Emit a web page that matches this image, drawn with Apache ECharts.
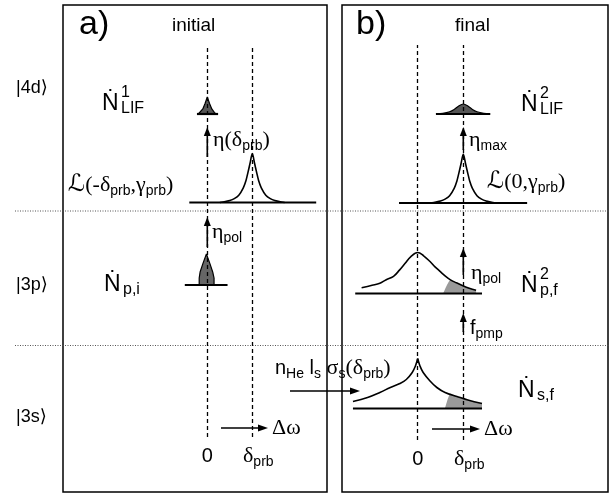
<!DOCTYPE html>
<html><head><meta charset="utf-8">
<script src="https://cdn.jsdelivr.net/npm/echarts@6/dist/echarts.min.js"></script>
<style>html,body{margin:0;padding:0;background:#fff}#c{width:610px;height:494px}</style>
</head><body><div id="c"></div>
<script>
// ---------- DATA (x in units of the probe detuning δprb, y = relative height) ----------
const freqTicks = [0, 1];
const freqTickLabels = ['0', 'δprb'];
const levelLabels = ['|4d⟩', '|3p⟩', '|3s⟩'];
const panelLabels = ['a)', 'b)'];
const panelTitles = ['initial', 'final'];

// panel a
const lifInitial = [[-0.2,0],[-0.16,0.08],[-0.1,0.3],[-0.05,0.62],[0,1],[0.05,0.62],[0.1,0.3],[0.16,0.08],[0.2,0]];
const lifInitialBase = [[-0.23,0],[0.24,0]];
const probeLorentz = [[0.28,0],[0.4,0.02],[0.5,0.04],[0.6,0.08],[0.7,0.15],[0.8,0.3],[0.86,0.45],[0.9,0.6],[0.95,0.8],[1,1],[1.05,0.8],[1.1,0.6],[1.14,0.45],[1.2,0.3],[1.3,0.15],[1.4,0.08],[1.5,0.04],[1.6,0.02],[1.72,0]];
const probeBaseA = [[-0.4,0],[2.42,0]];
const popInitial = [[-0.18,0],[-0.18,0.22],[-0.16,0.42],[-0.1,0.68],[-0.02,1],[0.06,0.68],[0.12,0.42],[0.15,0.22],[0.15,0]];
const popInitialBase = [[-0.5,0],[0.45,0]];

// panel b
const lifFinal = [[0.4,0],[0.55,0.06],[0.7,0.22],[0.8,0.45],[0.9,0.8],[1,1],[1.1,0.8],[1.2,0.45],[1.3,0.22],[1.45,0.06],[1.59,0]];
const lifFinalBase = [[0.4,0],[1.59,0]];
const probeBaseB = [[-0.41,0],[2.4,0]];
const popFinal = [[-1.23,0.14],[-1.0,0.2],[-0.83,0.25],[-0.7,0.33],[-0.53,0.42],[-0.4,0.57],[-0.28,0.73],[-0.15,0.9],[0,1],[0.13,0.92],[0.27,0.78],[0.38,0.65],[0.49,0.54],[0.6,0.43],[0.71,0.34],[0.85,0.26],[0.99,0.19],[1.13,0.13],[1.28,0.08]];
const popFinalShade = [[0.56,0],[0.72,0.33],[0.85,0.26],[0.99,0.19],[1.13,0.13],[1.28,0.08]];
const popFinalBase = [[-1.37,0],[1.41,0]];
const groundLeft = [[-1.42,0.14],[-1.1,0.22],[-0.83,0.32],[-0.6,0.42],[-0.39,0.5],[-0.25,0.58],[-0.12,0.72],[-0.05,0.85],[0,1]];
const groundRight = [[0,1],[0.05,0.85],[0.12,0.72],[0.27,0.55],[0.42,0.42],[0.6,0.32],[0.86,0.24],[1.1,0.17],[1.41,0.1]];
const groundShade = [[0.6,0],[0.72,0.3],[0.86,0.24],[1.1,0.17],[1.41,0.1]];
const groundBase = [[-1.42,0],[1.41,0]];

// ---------- LAYOUT ----------
const SANS = 'Liberation Sans, Arial, DejaVu Sans, sans-serif';
const SERIF = 'Liberation Serif, DejaVu Serif, serif';
const SCRIPT = 'DejaVu Serif, DejaVu Sans, serif';
const PA = {x0: 207.3, s: 45}, PB = {x0: 417.7, s: 45.6};
function panelGrid(p, top, height) {
  return {left: p.x0 - 3 * p.s, width: 6 * p.s, top: top, height: height, containLabel: false, outerBoundsMode: 'none', show: false};
}
const grids = [
  panelGrid(PA, 45, 392),
  panelGrid(PA, 97, 17),
  panelGrid(PA, 153.5, 49),
  panelGrid(PA, 254, 31),
  panelGrid(PB, 45, 395),
  panelGrid(PB, 104, 10),
  panelGrid(PB, 154, 49),
  panelGrid(PB, 252.5, 41),
  panelGrid(PB, 358.5, 50)
];
const rich = {
  t: {fontFamily: SANS, fontSize: 20, lineHeight: 26, fill: '#000'},
  g: {fontFamily: SERIF, fontSize: 22, lineHeight: 26, fill: '#000'},
  s: {fontFamily: SANS, fontSize: 14, lineHeight: 13, verticalAlign: 'bottom', fill: '#000'},
  l: {fontFamily: SCRIPT, fontSize: 24, lineHeight: 26, fill: '#000'}
};
const dashedIdx = [0, 4];
const xAxes = grids.map((g, i) => {
  const isDash = dashedIdx.indexOf(i) >= 0;
  return {
    type: 'value', gridIndex: i, min: -3, max: 3, interval: 1,
    show: isDash,
    axisLine: {show: false}, axisTick: {show: false}, splitLine: {show: false},
    axisLabel: {
      show: isDash, margin: 6,
      formatter: v => {
        const k = freqTicks.indexOf(v);
        if (k < 0) return '';
        return k === 0 ? '{t|' + freqTickLabels[0] + '}' : '{g|δ}{s|' + freqTickLabels[1].slice(1) + '}';
      },
      rich: {
        t: {fontFamily: SANS, fontSize: 20, lineHeight: 26, color: '#000'},
        g: {fontFamily: SERIF, fontSize: 22, lineHeight: 26, color: '#000', padding: [0, 0, 0, 12]},
        s: {fontFamily: SANS, fontSize: 14, lineHeight: 13, verticalAlign: 'bottom', color: '#000'}
      }
    }
  };
});
const yAxes = grids.map((g, i) => ({type: 'value', gridIndex: i, min: 0, max: 1, show: false}));

function ln(gi, data, o) {
  return Object.assign({type: 'line', xAxisIndex: gi, yAxisIndex: gi, data: data, symbol: 'none', clip: false, silent: true, animation: false,
    lineStyle: {color: '#000', width: 1.6}}, o || {});
}
const baseStyle = {lineStyle: {color: '#000', width: 2.2}};
const dashSeries = gi => ({
  type: 'line', xAxisIndex: gi, yAxisIndex: gi, data: [[0, 0]], symbol: 'none', silent: true, animation: false,
  lineStyle: {width: 0},
  markLine: {symbol: ['none', 'none'], silent: true, animation: false, label: {show: false},
    lineStyle: {color: '#000', width: 1.3, type: [4, 3]},
    data: freqTicks.map(v => ({xAxis: v}))}
});
const series = [
  dashSeries(0), dashSeries(4),
  ln(1, lifInitialBase, baseStyle),
  ln(1, lifInitial, {areaStyle: {color: '#555', opacity: 1}, lineStyle: {color: '#000', width: 1.2}}),
  ln(2, probeBaseA, baseStyle),
  ln(2, probeLorentz, {smooth: 0.3}),
  ln(3, popInitialBase, baseStyle),
  ln(3, popInitial, {areaStyle: {color: '#666', opacity: 1}, lineStyle: {color: '#000', width: 1.2}}),
  ln(5, lifFinalBase, baseStyle),
  ln(5, lifFinal, {smooth: 0.3, areaStyle: {color: '#555', opacity: 1}, lineStyle: {color: '#000', width: 1.2}}),
  ln(6, probeBaseB, baseStyle),
  ln(6, probeLorentz, {smooth: 0.3}),
  ln(7, popFinalBase, baseStyle),
  ln(7, popFinalShade, {smooth: 0.2, areaStyle: {color: '#9a9a9a', opacity: 1}, lineStyle: {width: 0}}),
  ln(7, popFinal, {smooth: 0.4}),
  ln(8, groundBase, baseStyle),
  ln(8, groundShade, {smooth: 0.2, areaStyle: {color: '#9a9a9a', opacity: 1}, lineStyle: {width: 0}}),
  ln(8, groundLeft, {smooth: 0.4}),
  ln(8, groundRight, {smooth: 0.4})
];

const chart = echarts.init(document.getElementById('c'), null, {renderer: 'canvas'});
chart.setOption({animation: false, backgroundColor: '#fff', grid: grids, xAxis: xAxes, yAxis: yAxes, series: series});

// ---------- annotations ----------
const px = (axis, v) => chart.convertToPixel({xAxisIndex: axis}, v);
const G = [];
function txt(x, y, text, font) {
  G.push({type: 'text', x: x, y: y, z: 10, silent: true,
    style: {text: text, rich: rich, fill: '#000', font: font || ('20px ' + SANS), align: 'left', verticalAlign: 'middle'}});
}
function vArrow(x, yBot, yTip) {
  G.push({type: 'line', z: 10, silent: true, shape: {x1: x, y1: yBot, x2: x, y2: yTip + 6}, style: {stroke: '#000', lineWidth: 1.6}});
  G.push({type: 'polygon', z: 10, silent: true, shape: {points: [[x, yTip], [x - 3.5, yTip + 9], [x + 3.5, yTip + 9]]}, style: {fill: '#000'}});
}
function hArrow(x1, xTip, y) {
  G.push({type: 'line', z: 10, silent: true, shape: {x1: x1, y1: y, x2: xTip - 6, y2: y}, style: {stroke: '#000', lineWidth: 1.4}});
  G.push({type: 'polygon', z: 10, silent: true, shape: {points: [[xTip, y], [xTip - 10, y - 3.5], [xTip - 10, y + 3.5]]}, style: {fill: '#000'}});
}
function dotN(x, y, sup, sub) {
  txt(x, y, 'Ṅ', '23px ' + SANS);
  if (sup) txt(x + 19, y - 11, sup, '16px ' + SANS);
  if (sub) txt(x + 19, y + 5, sub, '16px ' + SANS);
}
// panel frames and level separators
G.push({type: 'rect', z: 1, silent: true, shape: {x: 63, y: 5, width: 264, height: 487}, style: {fill: 'none', stroke: '#000', lineWidth: 1.5}});
G.push({type: 'rect', z: 1, silent: true, shape: {x: 342, y: 5, width: 266, height: 487}, style: {fill: 'none', stroke: '#000', lineWidth: 1.5}});
[211, 345.5].forEach(y => G.push({type: 'line', z: 1, silent: true, shape: {x1: 15, y1: y, x2: 610, y2: y}, style: {stroke: '#555', lineWidth: 1, lineDash: [1, 1.5]}}));

// level labels
[88, 285, 417].forEach((y, i) => txt(16, y, levelLabels[i], '18px ' + SANS));
// panel headers
txt(79, 25, panelLabels[0], '34px ' + SANS);
txt(172, 26, panelTitles[0], '19px ' + SANS);
txt(356, 25, panelLabels[1], '34px ' + SANS);
txt(455, 26, panelTitles[1], '19px ' + SANS);

// panel a
const a0 = px(0, freqTicks[0]);
dotN(102, 104, '1', 'LIF');
vArrow(a0, 157, 127);
txt(213, 140, '{g|η(δ}{s|prb}{g|)}');
txt(68, 185, '{l|ℒ}{g|(-δ}{s|prb}{g|,γ}{s|prb}{g|)}');
vArrow(a0, 247, 217);
txt(212, 232, '{g|η}{s|pol}');
dotN(104, 285, null, 'p,i');
hArrow(221, 268, 428);
txt(272, 428, '{g|Δω}');

// panel b
const b1 = px(4, freqTicks[1]);
dotN(521, 105, '2', 'LIF');
vArrow(b1, 150, 127);
txt(469, 140, '{g|η}{s|max}');
txt(487, 182, '{l|ℒ}{g|(0,γ}{s|prb}{g|)}');
vArrow(b1, 275, 248);
txt(471, 273, '{g|η}{s|pol}');
dotN(521, 286, '2', 'p,f');
vArrow(b1, 332, 313);
txt(470, 328, '{t|f}{s|pmp}');
txt(275, 368, '{t|n}{s|He}{t| l}{s|s}{t| }{g|σ}{s|s}{g|(δ}{s|prb}{g|)}');
hArrow(290, 360, 391);
dotN(518, 391, null, 's,f');
hArrow(432, 480, 429);
txt(484, 429, '{g|Δω}');

chart.setOption({graphic: G});
</script>
</body></html>
